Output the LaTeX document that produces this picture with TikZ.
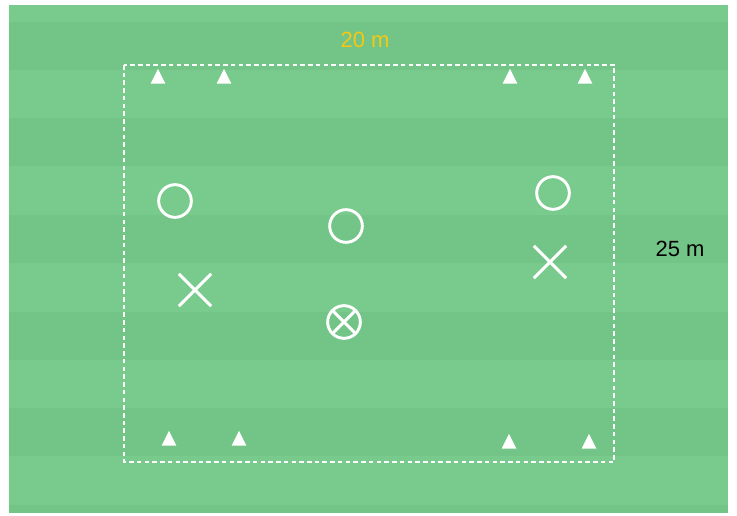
\documentclass[tikz,border=0pt]{standalone}
\usepackage{fontspec}
\setmainfont{Liberation Sans}
\usepackage{tikz}
\usetikzlibrary{shapes.geometric, shapes.misc}

\definecolor{grasslight}{RGB}{121,202,141}
\definecolor{grassdark}{RGB}{115,196,135}
\definecolor{labelgold}{RGB}{245,200,20}

\begin{document}
\begin{tikzpicture}[
    x=0.75pt, y=-0.75pt,
    field/.style={fill=grasslight, draw=none},
    stripe/.style={fill=grassdark, draw=none},
    area/.style={draw=white, line width=1.5pt, dash pattern=on 3.4pt off 2.4pt},
    cone/.style={
        isosceles triangle,
        isosceles triangle apex angle=52,
        isosceles triangle stretches,
        shape border rotate=90,
        fill=white,
        inner sep=0pt,
        minimum width=11pt,
        minimum height=11pt
    },
    player/.style={
        circle,
        draw=white,
        line width=2.2pt,
        minimum size=24.5pt,
        inner sep=0pt
    },
    opponent/.style={
        cross out,
        draw=white,
        line width=2.2pt,
        minimum size=22pt,
        inner sep=0pt
    },
    ball/.style={
        player,
        path picture={
            \draw[white, line width=2.2pt]
                (path picture bounding box.south west) -- (path picture bounding box.north east)
                (path picture bounding box.north west) -- (path picture bounding box.south east);
        }
    },
    dim/.style={font=\fontsize{16.5}{19}\selectfont}
]

\useasboundingbox (0,0) rectangle (737,516);
\fill[white] (0,0) rectangle (737,516);

% pitch with mown stripes
\fill[field] (9,5) rectangle (728,512);
\begin{scope}
    \clip (9,5) rectangle (728,512);
    \foreach \i in {0,...,5}
        \fill[stripe] (9,{22+96.5*\i}) rectangle (728,{70+96.5*\i});
\end{scope}

% playing area
\draw[area] (124,65) rectangle (614,462);

% cones
\node[cone] (cone-tl1) at (158,79) {};
\node[cone] (cone-tl2) at (224,79) {};
\node[cone] (cone-tr1) at (510,79) {};
\node[cone] (cone-tr2) at (585,79) {};
\node[cone] (cone-bl1) at (169,441) {};
\node[cone] (cone-bl2) at (239,441) {};
\node[cone] (cone-br1) at (509,444) {};
\node[cone] (cone-br2) at (589,444) {};

% players
\node[player] (p-left) at (175,201) {};
\node[player] (p-mid) at (346,226) {};
\node[player] (p-right) at (553,193) {};
\node[opponent] (o-left) at (195,290) {};
\node[opponent] (o-right) at (550,262) {};
\node[ball] (p-ball) at (344,322) {};

% dimensions
\node[dim, text=labelgold] (width) at (365,40) {20 m};
\node[dim, text=black] (length) at (680,249) {25 m};

\end{tikzpicture}
\end{document}
